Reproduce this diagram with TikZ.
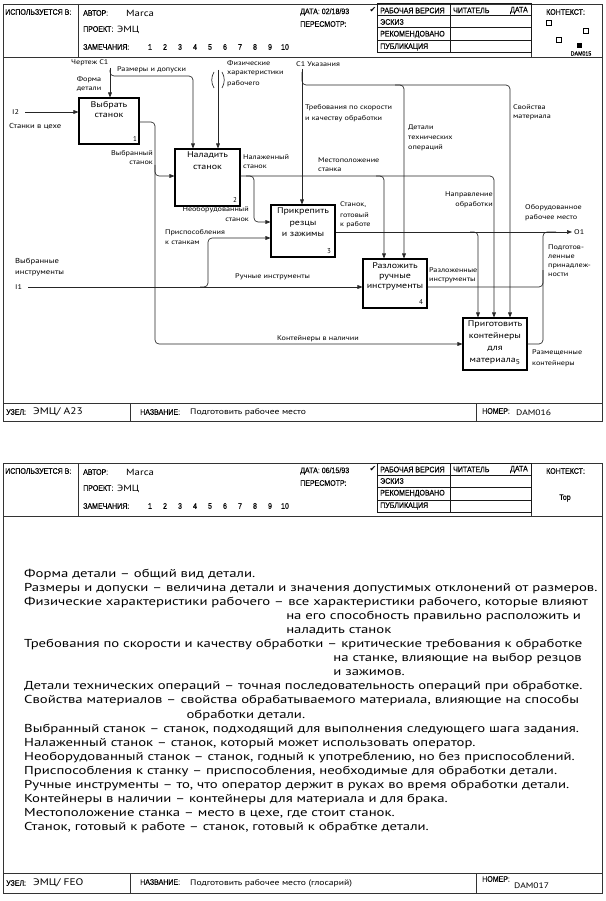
\documentclass[tikz,border=0pt]{standalone}
\usepackage{fontspec}
\usetikzlibrary{arrows.meta}
\setmainfont{PT Sans}
\newfontfamily\hdrf[FakeStretch=0.88,FakeBold=0.3]{Liberation Sans}
\newfontfamily\wdf[FakeStretch=1.2]{PT Sans}
\newfontfamily\glf[FakeStretch=1.28]{PT Sans}
\newfontfamily\symf{DejaVu Sans}

\tikzset{
  ln/.style={line width=0.65pt, draw=black!85},
  arr/.style={ln, -{Triangle[length=5pt,width=3.8pt]}},
  rc/.style={rounded corners=4pt},
  fr/.style={line width=0.8pt, draw=black!80},
  fb/.style={line width=1pt, draw=black!90},
  box/.style={draw=black, line width=1.1pt, inner sep=0pt},
  hd/.style={font=\hdrf\fontsize{8}{8}\selectfont, inner sep=0pt, anchor=west},
  hv/.style={font=\wdf\fontsize{9}{9}\selectfont, inner sep=0pt, anchor=west},
  lb/.style={font=\wdf\fontsize{6.8}{7}\selectfont, inner sep=0pt, anchor=west},
  lbr/.style={lb, anchor=east},
  bt/.style={font=\wdf\fontsize{8.3}{10}\selectfont, inner sep=0pt, align=center, anchor=north},
  bn/.style={font=\fontsize{7}{7}\selectfont, inner sep=0pt},
  gl/.style={font=\glf\fontsize{11.5}{12}\selectfont, inner sep=0pt, anchor=base west},
}

\newcommand\idefhead[2]{%
  \draw[fr] (78,4) -- (78,57);
  \draw[fr] (531,4) -- (531,57);
  \draw[fr] (3,57) -- (602,57);
  \draw[fb] (377,4) rectangle (531,53);
  \draw[fb] (377,16) -- (531,16) (377,28) -- (531,28) (377,41) -- (531,41);
  \draw[fb] (450,4) -- (450,53);
  \node[hd] (use#1) at (5,12) {ИСПОЛЬЗУЕТСЯ В:};
  \node[hd] (aut#1) at (83,13) {АВТОР:};
  \node[hv] (autv#1) at (126,13) {Marca};
  \node[hd] (prj#1) at (83,29) {ПРОЕКТ:};
  \node[hv] (prjv#1) at (117,30) {ЭМЦ};
  \node[hd] (rem#1) at (83,47) {ЗАМЕЧАНИЯ:};
  \foreach \n [count=\i from 0] in {1,2,3,4,5,6,7,8,9,10}
    \node[hd, anchor=center] (num#1\n) at (150+15*\i,47) {\n};
  \node[hd] (dat#1) at (300,12) {ДАТА: #2};
  \node[hd] (rev#1) at (300,24) {ПЕРЕСМОТР:};
  \node[inner sep=0pt, font=\symf\fontsize{8}{8}\selectfont] (chk#1) at (373,10) {✔};
  \node[hd] (st1#1) at (380,10.5) {РАБОЧАЯ ВЕРСИЯ};
  \node[hd] (st2#1) at (380,22) {ЭСКИЗ};
  \node[hd] (st3#1) at (380,34.5) {РЕКОМЕНДОВАНО};
  \node[hd] (st4#1) at (380,47) {ПУБЛИКАЦИЯ};
  \node[hd] (rd#1) at (453,10.5) {ЧИТАТЕЛЬ};
  \node[hd, anchor=east] (rdd#1) at (528,10.5) {ДАТА};
  \node[hd] (ctx#1) at (546,12) {КОНТЕКСТ:};
}

\begin{document}
\begin{tikzpicture}[x=1pt,y=-1pt]
\useasboundingbox (0,0) rectangle (605,901);
\fill[white] (0,0) rectangle (605,901);

%% ================= PAGE 1 =================
\draw[fr] (3,4) rectangle (602,421);
\idefhead{a}{02/18/93}
% context squares
\draw[line width=0.6pt] (546.5,20.5) rectangle (551.5,25.5);
\draw[line width=0.6pt] (583.5,28.5) rectangle (588.5,33.5);
\draw[line width=0.6pt] (556.5,37.5) rectangle (561.5,42.5);
\fill (576.5,43.5) rectangle (581.5,48.5);
\node[hd, anchor=center, font=\hdrf\fontsize{6}{6}\selectfont] (ctxid) at (581,53.5) {DAM015};

% footer
\draw[fr] (3,403) -- (602,403);
\draw[fr] (130,403) -- (130,421);
\draw[fr] (476,403) -- (476,421);
\node[hd] (nodea) at (6,412) {УЗЕЛ:};
\node[hv, font=\wdf\fontsize{9.5}{9}\selectfont] (nodeav) at (33,412) {ЭМЦ/ А23};
\node[hd] (titla) at (140,412) {НАЗВАНИЕ:};
\node[hv, font=\wdf\fontsize{8}{8}\selectfont] (titlav) at (190,412) {Подготовить рабочее место};
\node[hd] (numa) at (482,411) {НОМЕР:};
\node[hv, font=\wdf\fontsize{8}{8}\selectfont] (numav) at (516,413) {DAM016};

% boxes
\node[box, minimum width=60pt, minimum height=46pt] (b1) at (109,121) {};
\node[box, minimum width=65pt, minimum height=57pt] (b2) at (207.5,177.5) {};
\node[box, minimum width=64pt, minimum height=52pt] (b3) at (303,231) {};
\node[box, minimum width=64pt, minimum height=49pt] (b4) at (395,283.5) {};
\node[box, minimum width=64pt, minimum height=52pt] (b5) at (495,344) {};

\node[bt] (b1t) at (109,101) {Выбрать\\станок};
\node[bt, font=\wdf\fontsize{8.3}{11.5}\selectfont] (b2t) at (207.5,151.5) {Наладить\\станок};
\node[bt, font=\wdf\fontsize{8.3}{11.5}\selectfont] (b3t) at (303,207.5) {Прикрепить\\резцы\\и зажимы};
\node[bt] (b4t) at (395,262.5) {Разложить\\ручные\\инструменты};
\node[bt, font=\wdf\fontsize{8.3}{12}\selectfont] (b5t) at (495,320) {Приготовить\\контейнеры\\для\\материала\raisebox{-2.5pt}{\fontsize{7}{7}\selectfont 5}};
\node[bn] (b1n) at (135,139) {1};
\node[bn] (b2n) at (235,200) {2};
\node[bn] (b3n) at (329,251) {3};
\node[bn] (b4n) at (421,302) {4};

% ---- connectors ----
% I2
\coordinate (i2) at (25,112);
\draw[arr] (i2) -- (i2 -| b1.west);
% C1 Чертеж
\coordinate (c1a) at (110,68);
\draw[arr] (c1a) -- (c1a |- b1.north);
\coordinate (c1b) at (193,76);
\draw[arr, rc] (110,70) |- (c1b) -- (c1b |- b2.north);
% Физические характеристики
\coordinate (ph) at (218,70);
\draw[arr] (ph) -- (ph |- b2.north);
\draw[ln] (214,72) .. controls (211,77) and (211,83) .. (214,88);
\draw[ln] (222,72) .. controls (225,77) and (225,83) .. (222,88);
% C1 Указания
\coordinate (c1u) at (302,69);
\draw[arr] (c1u) -- (c1u |- b3.north);
\coordinate (sv) at (510,85);
\draw[arr, rc] (302,72) |- (sv) -- (sv |- b5.north);
\coordinate (dt) at (404,85);
\draw[arr, rc] (395,85) -| (dt |- b4.north);
% Box1 output
\coordinate (o1c) at (155,122);
\coordinate (kc) at (155,344);
\draw[arr, rc] (b1.east |- o1c) -- (o1c) -- (kc) -- (kc -| b5.west);
\coordinate (b2in) at (155,176);
\draw[arr, rc] (155,165) |- (b2in -| b2.west);
% Box2 output
\coordinate (n1) at (494,176);
\draw[arr, rc] (b2.east |- n1) -- (n1) -- (n1 |- b5.north);
\coordinate (nb) at (254,222);
\draw[arr, rc] (246,176) -| (nb) -- (nb -| b3.west);
\coordinate (ms) at (384,176);
\draw[arr, rc] (376,176) -| (ms |- b4.north);
% Box3 output
\coordinate (o1) at (572,232);
\draw[arr] (b3.east |- o1) -- (o1);
\coordinate (rw) at (478,232);
\draw[arr, rc] (470,232) -| (rw |- b5.north);
% Box4 output
\coordinate (pp) at (543,287);
\draw[ln, rc] (b4.east |- pp) -| (543,270);
% Box5 output
\coordinate (rcn) at (543,344);
\draw[ln, rc] (b5.east |- rcn) -- (rcn) -- (543,232) -- (556,232);
% I1
\coordinate (i1) at (28,287);
\draw[arr] (i1) -- (i1 -| b4.west);
\coordinate (pr) at (208,238);
\draw[arr, rc] (200,287) -| (pr) -- (pr -| b3.west);

% ---- labels ----
\node[lb] (l1) at (12,112) {I2};
\node[lb, font=\wdf\fontsize{7.2}{7}\selectfont] (l2) at (9,126) {Станки в цехе};
\node[lb] (l3) at (71,63) {Чертеж C1};
\node[lb] (l4) at (117,70) {Размеры и допуски};
\node[lb, anchor=center, align=center, font=\wdf\fontsize{6.8}{9.5}\selectfont] (l5) at (89,84) {Форма\\детали};
\node[lb] (l6) at (227,63) {Физические};
\node[lb] (l7) at (227,73) {характеристики};
\node[lb] (l8) at (227,84) {рабочего};
\node[lb] (l9) at (296,64) {C1 Указания};
\node[lb] (l10) at (305,108) {Требования по скорости};
\node[lb] (l11) at (305,119) {и качеству обработки};
\node[lb] (l12) at (408,128) {Детали};
\node[lb] (l13) at (408,138) {технических};
\node[lb] (l14) at (408,148) {операций};
\node[lb] (l15) at (513,107) {Свойства};
\node[lb] (l16) at (513,117) {материала};
\node[lbr] (l17) at (153,154) {Выбранный};
\node[lbr] (l18) at (153,163) {станок};
\node[lb] (l19) at (243,157) {Налаженный};
\node[lb] (l20) at (243,167) {станок};
\node[lb] (l21) at (318,160) {Местоположение};
\node[lb] (l22) at (318,170) {станка};
\node[lbr] (l23) at (249,210) {Необорудованный};
\node[lbr] (l24) at (249,220) {станок};
\node[lb] (l25) at (165,233) {Приспособления};
\node[lb] (l26) at (165,243) {к станкам};
\node[lb] (l27) at (340,205) {Станок,};
\node[lb] (l28) at (340,215) {готовый};
\node[lb] (l29) at (340,225) {к работе};
\node[lbr] (l30) at (493,195) {Направление};
\node[lbr] (l31) at (493,205) {обработки};
\node[lb] (l32) at (525,208) {Оборудованное};
\node[lb] (l33) at (525,218) {рабочее место};
\node[lb] (l34) at (574,232) {O1};
\node[lb] (l35) at (548,248) {Подготов-};
\node[lb] (l36) at (548,257) {ленные};
\node[lb] (l37) at (548,266) {принадлеж-};
\node[lb] (l38) at (548,275) {ности};
\node[lb] (l39) at (429,270) {Разложенные};
\node[lb] (l40) at (429,280) {инструменты};
\node[lb, font=\wdf\fontsize{7.2}{7}\selectfont] (l41) at (15,262) {Выбранные};
\node[lb, font=\wdf\fontsize{7.2}{7}\selectfont] (l42) at (15,273) {инструменты};
\node[lb] (l43) at (15,287) {I1};
\node[lb] (l44) at (235,277) {Ручные инструменты};
\node[lb] (l45) at (277,339) {Контейнеры в наличии};
\node[lb] (l46) at (532,353) {Размещенные};
\node[lb] (l47) at (532,364) {контейнеры};

%% ================= PAGE 2 =================
\draw[fr] (3,463) rectangle (602,893);
\begin{scope}[shift={(0,459)}]
  \idefhead{b}{06/15/93}
  \node[hd, anchor=center] (ctxtop) at (565,39) {Top};
\end{scope}
\draw[fr] (3,873) -- (602,873);
\draw[fr] (130,873) -- (130,893);
\draw[fr] (476,873) -- (476,893);
\node[hd] (nodeb) at (6,883) {УЗЕЛ:};
\node[hv, font=\wdf\fontsize{9.5}{9}\selectfont] (nodebv) at (33,883) {ЭМЦ/ FEO};
\node[hd] (titlb) at (140,882) {НАЗВАНИЕ:};
\node[hv, font=\wdf\fontsize{8}{8}\selectfont] (titlbv) at (190,883) {Подготовить рабочее место (глосарий)};
\node[hd] (numb) at (482,879) {НОМЕР:};
\node[hv, font=\wdf\fontsize{8}{8}\selectfont] (numbv) at (514,886) {DAM017};

% glossary
\node[gl] (g1) at (24,577) {Форма детали – общий вид детали.};
\node[gl] (g2) at (24,591.1) {Размеры и допуски – величина детали и значения допустимых отклонений от размеров.};
\node[gl] (g3) at (24,605.2) {Физические характеристики рабочего –};
\node[gl] (g3d) at (g3.base east) {\ все характеристики рабочего, которые влияют};
\node[gl] (g3c) at ([yshift=-14.1pt,xshift=-2pt]g3d.base west) {\ на его способность правильно расположить и};
\node[gl] (g3e) at ([yshift=-28.2pt,xshift=-2pt]g3d.base west) {\ наладить станок};
\node[gl] (g4) at (24,647.5) {Требования по скорости и качеству обработки –};
\node[gl] (g4d) at (g4.base east) {\ критические требования к обработке};
\node[gl] (g4c) at ([yshift=-14.1pt,xshift=-8pt]g4d.base west) {\ на станке, влияющие на выбор резцов};
\node[gl] (g4e) at ([yshift=-28.2pt,xshift=-8pt]g4d.base west) {\ и зажимов.};
\node[gl] (g5) at (24,689.8) {Детали технических операций – точная последовательность операций при обработке.};
\node[gl] (g6) at (24,703.9) {Свойства материалов –};
\node[gl] (g6d) at (g6.base east) {\ свойства обрабатываемого материала, влияющие на способы};
\node[gl] (g6c) at ([yshift=-14.1pt,xshift=6pt]g6d.base west) {\ обработки детали.};
\node[gl] (g7) at (24,732.1) {Выбранный станок – станок, подходящий для выполнения следующего шага задания.};
\node[gl] (g8) at (24,746.2) {Налаженный станок – станок, который может использовать оператор.};
\node[gl] (g9) at (24,760.3) {Необорудованный станок – станок, годный к употреблению, но без приспособлений.};
\node[gl] (g10) at (24,774.4) {Приспособления к станку – приспособления, необходимые для обработки детали.};
\node[gl] (g11) at (24,788.5) {Ручные инструменты – то, что оператор держит в руках во время обработки детали.};
\node[gl] (g12) at (24,802.6) {Контейнеры в наличии – контейнеры для материала и для брака.};
\node[gl] (g13) at (24,816.7) {Местоположение станка – место в цехе, где стоит станок.};
\node[gl] (g14) at (24,830.8) {Станок, готовый к работе – станок, готовый к обрабтке детали.};
\end{tikzpicture}
\end{document}
